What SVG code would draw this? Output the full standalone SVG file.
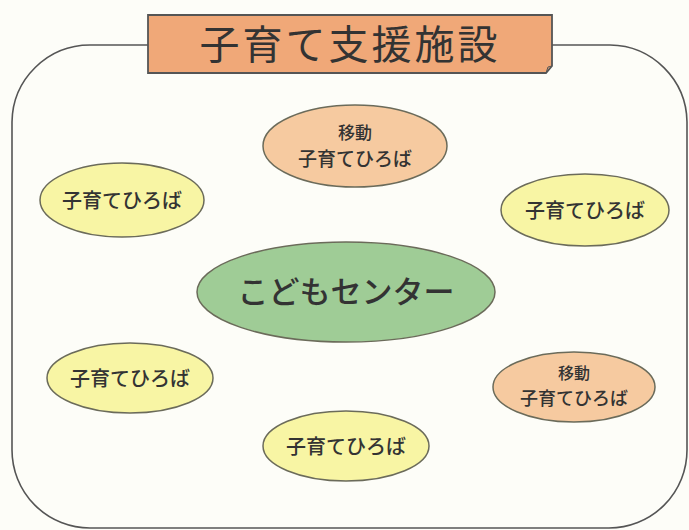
<svg xmlns="http://www.w3.org/2000/svg" width="689" height="530" viewBox="0 0 689 530">
<style>
.t{font-family:"Noto Sans CJK JP","Noto Sans CJK SC",sans-serif;fill:#333;text-anchor:middle;font-weight:500}
.tt{font-weight:400}
.e{stroke:#6b6b5a;stroke-width:1.5}
.y{fill:#f8f5a4}
.o{fill:#f6caa0}
.g{fill:#9fcc96}
</style>
<rect width="689" height="530" fill="#fdfdf8"/>
<g id="frame">
<path d="M90,45 H610 A78,78 0 0 1 687,122 V450 A78,78 0 0 1 609,528 H90 A78,78 0 0 1 12,450 V122 A78,78 0 0 1 90,45 Z" fill="none" stroke="#555" stroke-width="1.6"/>
</g>
<g id="title">
<path d="M148,15 H552 V66 L546,73 H148 Z" fill="#f0a878" stroke="#555" stroke-width="1.8"/>
<path d="M546,73 L548,67 L552,66" fill="none" stroke="#555" stroke-width="1"/>
<text class="t tt" x="350" y="59" font-size="40" letter-spacing="3">子育て支援施設</text>
</g>
<g id="connectors"></g>
<g id="mobile-top">
<ellipse class="e o" cx="355" cy="146" rx="92" ry="41"/>
<text class="t" x="355" y="139" font-size="17">移動</text>
<text class="t" x="355" y="166" font-size="19">子育てひろば</text>
</g>
<g id="hiroba-lt">
<ellipse class="e y" cx="122" cy="200" rx="82" ry="37"/>
<text class="t" x="122" y="208" font-size="20">子育てひろば</text>
</g>
<g id="hiroba-rt">
<ellipse class="e y" cx="585" cy="210" rx="84" ry="36"/>
<text class="t" x="585" y="218" font-size="20">子育てひろば</text>
</g>
<g id="center">
<ellipse class="e g" cx="346" cy="292" rx="149" ry="50"/>
<text class="t" x="346" y="303" font-size="31">こどもセンター</text>
</g>
<g id="hiroba-lb">
<ellipse class="e y" cx="130" cy="378" rx="83" ry="35"/>
<text class="t" x="130" y="386" font-size="20">子育てひろば</text>
</g>
<g id="mobile-rb">
<ellipse class="e o" cx="574" cy="387" rx="81" ry="35"/>
<text class="t" x="574" y="379" font-size="16">移動</text>
<text class="t" x="574" y="405" font-size="18">子育てひろば</text>
</g>
<g id="hiroba-b">
<ellipse class="e y" cx="346" cy="446" rx="83" ry="35"/>
<text class="t" x="346" y="454" font-size="20">子育てひろば</text>
</g>
</svg>
